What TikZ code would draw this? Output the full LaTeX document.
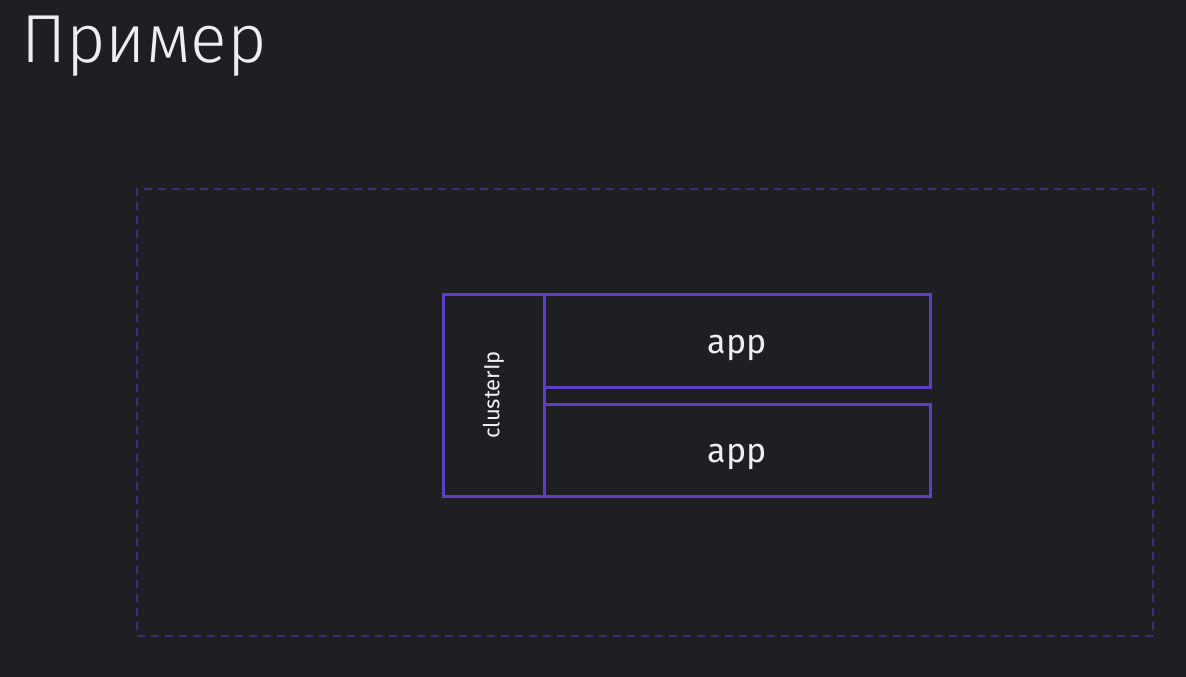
\documentclass[tikz,border=0pt]{standalone}
\usepackage{fontspec}
\setmainfont{Fira Sans}
\newfontfamily\lightfont{Fira Sans Light}
\usetikzlibrary{positioning}
\definecolor{slide}{RGB}{31,30,34}
\definecolor{podline}{RGB}{94,62,196}
\definecolor{nsline}{RGB}{58,48,118}
\definecolor{inktext}{RGB}{238,238,240}

\begin{document}
\begin{tikzpicture}[x=1pt, y=-1pt,
    box/.style={draw=podline, line width=3pt, inner sep=0pt, text=inktext},
    nsframe/.style={draw=nsline, line width=1.5pt, dash pattern=on 8pt off 6pt, inner sep=0pt}]
    % Background
    \fill[slide] (0,0) rectangle (1186,677);

    % Title
    \node[anchor=base west, inner sep=0pt, text=inktext, font=\lightfont\fontsize{68}{68}\selectfont] (title) at (21,63) {Пример};

    % Dashed frame
    \node[nsframe, minimum width=1016pt, minimum height=447pt] (frame) at (645,412.5) {};

    % Service
    \node[box, rotate=90, minimum width=202pt, minimum height=101pt, font=\fontsize{22}{22}\selectfont] (cluster) at (493.5,395) {clusterIp};

    % Pods
    \node[box, minimum width=386pt, minimum height=93pt, text height=25pt, text depth=0pt, font=\fontsize{34}{34}\selectfont] (appA) at (737,340.5) {app};
    \node[box, minimum width=386pt, minimum height=92pt, text height=25pt, text depth=0pt, font=\fontsize{34}{34}\selectfont] (appB) at (737,450) {app};
\end{tikzpicture}
\end{document}
